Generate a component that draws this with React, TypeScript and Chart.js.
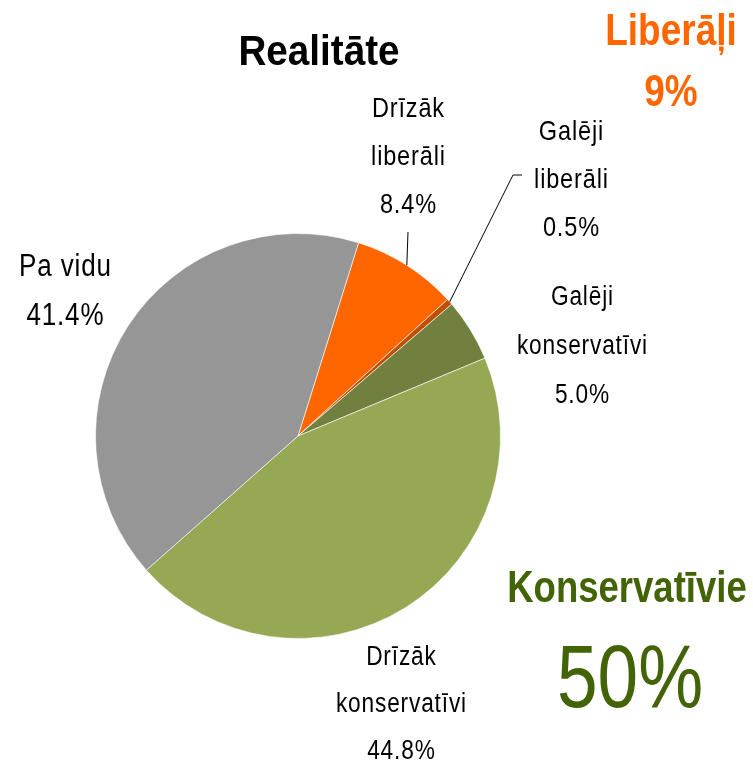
import React, { useEffect, useRef } from "react";
import { Chart, registerables } from "chart.js";

Chart.register(...registerables);

const categories = ["Drīzāk liberāli", "Galēji liberāli", "Galēji konservatīvi", "Drīzāk konservatīvi", "Pa vidu"];
const values = [8.4, 0.5, 5.0, 44.8, 41.4];
const labelLines = [["Drīzāk", "liberāli"], ["Galēji", "liberāli"], ["Galēji", "konservatīvi"], ["Drīzāk", "konservatīvi"], ["Pa vidu"]];
const colors = ["#FF6600", "#C04F00", "#71803F", "#97A855", "#969696"];
const liberalIdx = [0, 1];
const conservativeIdx = [2, 3];
const chartTitle = "Realitāte";
const liberalTitle = "Liberāļi";
const conservativeTitle = "Konservatīvie";

const FONT = "'Liberation Sans', Arial, sans-serif";
const NARROW_SCALE = 0.84;

// label anchor: center x, first baseline y, line gap, font size
const labelPos = [
  { x: 408, y: 117, gap: 48, size: 28, leader: [[408, 232]] },
  { x: 571, y: 140, gap: 48, size: 28, leader: [[513, 175], [522, 175]] },
  { x: 582, y: 305, gap: 49, size: 27, leader: null },
  { x: 401, y: 665, gap: 47, size: 27, leader: null },
  { x: 65, y: 276, gap: 49, size: 31, leader: null },
];

function drawNarrow(ctx: CanvasRenderingContext2D, text: string, x: number, y: number, font: string, sx: number, spacing = 0) {
  ctx.save();
  ctx.translate(x, y);
  ctx.scale(sx, 1);
  ctx.font = font;
  (ctx as any).letterSpacing = spacing + "px";
  ctx.textAlign = "center";
  ctx.textBaseline = "alphabetic";
  ctx.fillText(text, spacing / 2, 0);
  ctx.restore();
}

const textPlugin = {
  id: "customText",
  afterDraw(chart: any) {
    const ctx = chart.ctx as CanvasRenderingContext2D;
    const meta = chart.getDatasetMeta(0);
    ctx.save();
    // leader lines
    meta.data.forEach((arc: any, i: number) => {
      const p = labelPos[i];
      if (!p.leader) return;
      const mid = (arc.startAngle + arc.endAngle) / 2;
      const sx = arc.x + Math.cos(mid) * arc.outerRadius;
      const sy = arc.y + Math.sin(mid) * arc.outerRadius;
      ctx.beginPath();
      ctx.strokeStyle = "#000";
      ctx.lineWidth = 1;
      ctx.moveTo(sx, sy);
      p.leader.forEach((pt: number[]) => ctx.lineTo(pt[0], pt[1]));
      ctx.stroke();
    });
    // slice labels
    values.forEach((v, i) => {
      const p = labelPos[i];
      ctx.fillStyle = "#000";
      const lines = [...labelLines[i], v.toFixed(1) + "%"];
      lines.forEach((t, k) => drawNarrow(ctx, t, p.x, p.y + k * p.gap, `${p.size}px ${FONT}`, NARROW_SCALE, 1));
    });
    // title
    ctx.fillStyle = "#000";
    drawNarrow(ctx, chartTitle, 319, 65, `bold 42px ${FONT}`, 0.92);
    // group totals
    const lib = Math.round(liberalIdx.reduce((s, i) => s + values[i], 0));
    const con = Math.round(conservativeIdx.reduce((s, i) => s + values[i], 0));
    ctx.fillStyle = "#FF6600";
    drawNarrow(ctx, liberalTitle, 671, 45, `bold 44px ${FONT}`, NARROW_SCALE);
    drawNarrow(ctx, lib + "%", 671, 106, `bold 44px ${FONT}`, NARROW_SCALE);
    ctx.fillStyle = "#436406";
    drawNarrow(ctx, conservativeTitle, 627, 602, `bold 44px ${FONT}`, 0.83);
    drawNarrow(ctx, con + "%", 630, 707, `89px ${FONT}`, 0.82);
    ctx.restore();
  },
};

export default function App() {
  const ref = useRef<HTMLCanvasElement>(null);
  useEffect(() => {
    document.body.style.margin = "0";
    const chart = new Chart(ref.current!, {
      type: "pie",
      data: {
        labels: categories,
        datasets: [
          {
            data: values,
            backgroundColor: colors,
            borderColor: "rgba(255,255,255,0.6)",
            borderWidth: 1,
          },
        ],
      },
      options: {
        responsive: false,
        animation: false,
        rotation: 17.4,
        layout: { padding: { left: 95, right: 252, top: 233, bottom: 122 } },
        plugins: { legend: { display: false }, tooltip: { enabled: false }, title: { display: false } },
      },
      plugins: [textPlugin],
    });
    return () => chart.destroy();
  }, []);
  return (
    <div style={{ position: "absolute", left: 0, top: 0, width: 753, height: 761, background: "#fff" }}>
      <canvas ref={ref} width={753} height={761} style={{ width: 753, height: 761 }} />
    </div>
  );
}
